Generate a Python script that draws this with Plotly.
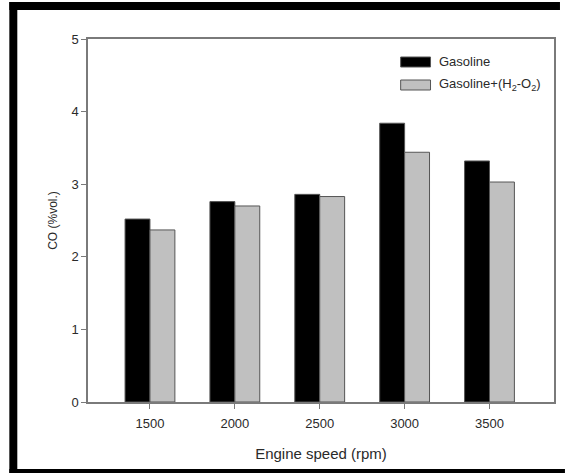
import plotly.graph_objects as go

categories = ["1500", "2000", "2500", "3000", "3500"]
gasoline = [2.52, 2.76, 2.86, 3.84, 3.32]
gasoline_h2o2 = [2.37, 2.70, 2.83, 3.44, 3.03]
y_ticks = [0, 1, 2, 3, 4, 5]

W, H = 567, 473
L, R, T, B = 88, 556, 39, 402  # plot area in pixels

def px(x):
    return (x - L) / (R - L)

def py(y):
    return (B - y) / (B - T)

xs = list(range(len(categories)))
font = "Liberation Sans, Arial, sans-serif"
txt = "#2a2a2a"

fig = go.Figure()
fig.add_trace(go.Bar(x=xs, y=gasoline, name="Gasoline",
                     marker=dict(color="black", line=dict(color="#555555", width=1)),
                     showlegend=False))
fig.add_trace(go.Bar(x=xs, y=gasoline_h2o2, name="Gasoline+(H<sub>2</sub>-O<sub>2</sub>)",
                     marker=dict(color="#c0c0c0", line=dict(color="#555555", width=1)),
                     showlegend=False))

shapes = []
# outer black frame
for (x0, y0, x1, y1) in [(9, 2, 562, 10), (9, 2, 17, 473), (9, 469, 567, 473)]:
    shapes.append(dict(type="rect", xref="paper", yref="paper",
                       x0=px(x0), x1=px(x1), y0=py(y1), y1=py(y0),
                       fillcolor="black", line=dict(width=0), layer="above"))
# legend swatches
shapes.append(dict(type="rect", xref="paper", yref="paper",
                   x0=px(402), x1=px(432), y0=py(67), y1=py(57),
                   fillcolor="black", line=dict(color="#555555", width=1)))
shapes.append(dict(type="rect", xref="paper", yref="paper",
                   x0=px(402), x1=px(432), y0=py(90), y1=py(80),
                   fillcolor="#c0c0c0", line=dict(color="#555555", width=1)))

annotations = [
    dict(xref="paper", yref="paper", x=px(438), y=py(62), xanchor="left", yanchor="middle",
         text="Gasoline", showarrow=False, font=dict(family=font, size=13, color=txt)),
    dict(xref="paper", yref="paper", x=px(438), y=py(85), xanchor="left", yanchor="middle",
         text="Gasoline+(H<sub>2</sub>-O<sub>2</sub>)", showarrow=False,
         font=dict(family=font, size=13, color=txt)),
]

fig.update_layout(
    width=W, height=H,
    margin=dict(l=L, r=W - R, t=T, b=H - B),
    paper_bgcolor="white", plot_bgcolor="white",
    barmode="group", bargap=0.413, bargroupgap=0,
    font=dict(family=font, size=13, color=txt),
    shapes=shapes, annotations=annotations,
    xaxis=dict(range=[-0.73, 4.76], tickvals=xs, ticktext=categories,
               showline=True, linecolor="#7a7a7a", linewidth=1.5, mirror=True,
               ticks="outside", ticklen=5, tickcolor="#7a7a7a", showgrid=False, zeroline=False,
               tickfont=dict(size=13, color=txt), ticklabelstandoff=4,
               title=dict(text="Engine speed (rpm)", font=dict(size=15, color=txt), standoff=18)),
    yaxis=dict(range=[0, 5], tickvals=y_ticks,
               showline=True, linecolor="#7a7a7a", linewidth=1.5, mirror=True,
               ticks="outside", ticklen=5, tickcolor="#7a7a7a", showgrid=False, zeroline=False,
               tickfont=dict(size=13, color=txt),
               title=dict(text="CO (%vol.)", font=dict(size=12, color=txt), standoff=11)),
)

fig.write_html("out.html", config={"displayModeBar": False},
               post_script="document.body.style.margin='0';document.body.style.overflow='hidden';")
